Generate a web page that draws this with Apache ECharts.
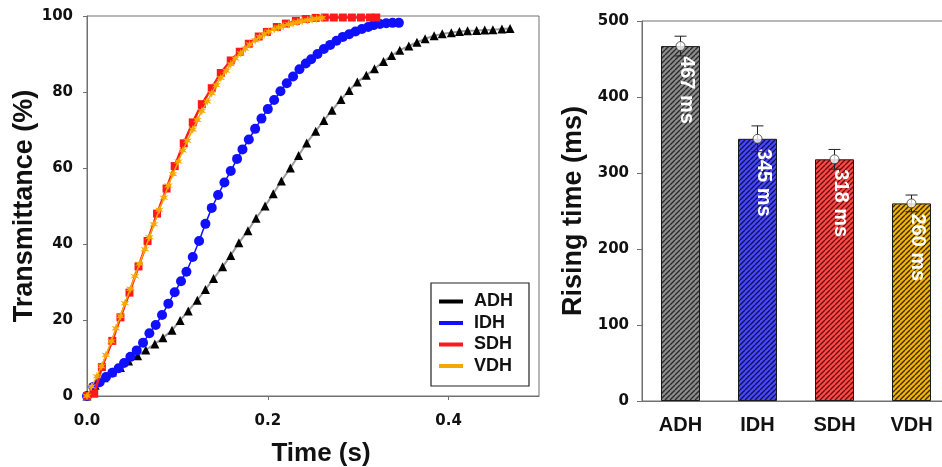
<!DOCTYPE html>
<html>
<head>
<meta charset="utf-8">
<script src="https://cdn.jsdelivr.net/npm/echarts@6/dist/echarts.min.js"></script>
<style>
  html, body { margin: 0; padding: 0; background: #fff; }
  #chart { width: 942px; height: 467px; }
</style>
</head>
<body>
<div id="chart"></div>
<script>
// Transmittance (%) versus time (s) for the four devices
const adhCurve = [
  [0, 0], [0.009, 2.8], [0.019, 4.8], [0.028, 6.3], [0.037, 7.5], [0.046, 9.2], [0.056, 10.6],
  [0.065, 12.1], [0.075, 13.7], [0.084, 15.3], [0.094, 17.3], [0.103, 19.9], [0.112, 22.4],
  [0.122, 25.2], [0.131, 28.0], [0.140, 30.9], [0.150, 34.0], [0.159, 37.0], [0.168, 40.3],
  [0.178, 43.5], [0.187, 46.8], [0.197, 50.0], [0.206, 53.2], [0.215, 56.6], [0.225, 60.0],
  [0.234, 63.3], [0.243, 66.6], [0.253, 69.7], [0.262, 72.5], [0.271, 75.2], [0.281, 78.0],
  [0.290, 80.4], [0.299, 82.6], [0.309, 84.4], [0.318, 86.1], [0.328, 88.0], [0.337, 89.6],
  [0.346, 91.0], [0.356, 92.1], [0.365, 93.1], [0.374, 94.0], [0.384, 94.8], [0.393, 95.3],
  [0.403, 95.6], [0.412, 95.9], [0.421, 96.1], [0.431, 96.2], [0.440, 96.3], [0.449, 96.4],
  [0.459, 96.6], [0.468, 96.7]
];
const idhCurve = [
  [0, 0], [0.007, 2.4], [0.014, 3.6], [0.021, 5.0], [0.028, 6.1], [0.035, 7.3], [0.041, 8.7],
  [0.048, 10.3], [0.055, 12.0], [0.062, 14.0], [0.069, 16.5], [0.076, 18.7], [0.083, 21.3],
  [0.090, 24.3], [0.097, 27.3], [0.104, 30.2], [0.110, 32.7], [0.117, 36.6], [0.124, 40.8],
  [0.131, 45.3], [0.138, 49.5], [0.145, 52.9], [0.152, 56.2], [0.159, 59.2], [0.166, 62.4],
  [0.172, 64.9], [0.179, 67.5], [0.186, 70.3], [0.193, 73.0], [0.200, 75.5], [0.207, 77.9],
  [0.214, 80.2], [0.221, 82.3], [0.228, 84.1], [0.235, 86.0], [0.242, 87.5], [0.248, 88.6],
  [0.255, 90.0], [0.262, 91.3], [0.269, 92.4], [0.276, 93.5], [0.283, 94.5], [0.290, 95.2],
  [0.297, 95.9], [0.304, 96.6], [0.311, 97.1], [0.317, 97.6], [0.324, 97.9], [0.331, 98.1],
  [0.338, 98.2], [0.345, 98.2]
];
const sdhCurve = [
  [0, 0], [0.008, 0.6], [0.0165, 7.6], [0.028, 14.5], [0.037, 20.7], [0.047, 27.2], [0.057, 34.1],
  [0.067, 40.8], [0.0775, 48.0], [0.088, 54.6], [0.097, 60.5], [0.107, 66.5], [0.117, 72.0],
  [0.127, 76.8], [0.138, 81.0], [0.148, 85.0], [0.159, 88.3], [0.169, 90.6], [0.179, 92.7],
  [0.190, 94.6], [0.199, 95.8], [0.210, 97.1], [0.220, 98.0], [0.231, 98.7], [0.242, 99.2],
  [0.253, 99.5], [0.263, 99.6], [0.273, 99.6], [0.283, 99.6], [0.293, 99.6], [0.303, 99.6],
  [0.313, 99.6], [0.320, 99.6]
];
const vdhCurve = [
  [0, 0], [0.005, 2.5], [0.011, 5.2], [0.016, 7.8], [0.021, 10.8], [0.027, 14.4], [0.032, 17.8],
  [0.037, 21.0], [0.042, 24.4], [0.048, 28.2], [0.053, 31.5], [0.058, 34.8], [0.064, 38.6],
  [0.069, 41.8], [0.074, 45.2], [0.080, 49.0], [0.085, 52.2], [0.090, 55.4], [0.095, 58.4],
  [0.101, 61.7], [0.106, 64.6], [0.111, 67.2], [0.117, 70.1], [0.122, 72.6], [0.127, 75.0],
  [0.133, 77.5], [0.138, 79.7], [0.143, 81.8], [0.148, 83.7], [0.154, 85.6], [0.159, 87.3],
  [0.164, 88.8], [0.170, 90.2], [0.175, 91.4], [0.180, 92.5], [0.186, 93.6], [0.191, 94.5],
  [0.196, 95.2], [0.201, 95.9], [0.207, 96.5], [0.212, 97.0], [0.217, 97.4], [0.223, 97.8],
  [0.228, 98.1], [0.233, 98.4], [0.238, 98.7], [0.244, 98.9], [0.249, 99.1], [0.254, 99.3],
  [0.260, 99.5]
];
const timeTicks = [0, 0.2, 0.4];

// Rising time (ms) per device, with error half-widths
const groups = ['ADH', 'IDH', 'SDH', 'VDH'];
const riseTime = [467, 345, 318, 260];
const riseErr = [13, 17, 13, 11];

const lineColors = { ADH: '#000000', IDH: '#1010ff', SDH: '#ff1a1a', VDH: '#f7a800' };
const barBase = ['#8c8c8c', '#4848ff', '#ff4a4a', '#f4b400'];
const barStripe = ['#2a2a2a', '#10105a', '#6a0c0c', '#3a2800'];

const tickFont = 'DejaVu Sans';
const textFont = 'Liberation Sans, Arial, sans-serif';
const axisGrey = '#707070';

// Diagonal hatch fill for the bars
function hatch(base, stripe) {
  const s = 5;
  const c = document.createElement('canvas');
  c.width = s; c.height = s;
  const g = c.getContext('2d');
  g.fillStyle = base;
  g.fillRect(0, 0, s, s);
  g.strokeStyle = stripe;
  g.lineWidth = 1.4;
  g.beginPath();
  for (const o of [-s, 0, s]) { g.moveTo(o, s); g.lineTo(o + s, 0); }
  g.stroke();
  return { image: c, repeat: 'repeat' };
}

const starPath = 'path://M0,-10L2,-3.46L8.66,-5L4,0L8.66,5L2,3.46L0,10L-2,3.46L-8.66,5L-4,0L-8.66,-5L-2,-3.46Z';

const chart = echarts.init(document.getElementById('chart'), null, { renderer: 'canvas' });

const option = {
  animation: false,
  backgroundColor: '#fff',
  grid: [
    { left: 87, top: 16, width: 452, height: 380, containLabel: false, outerBoundsMode: 'none',
      show: true, borderColor: axisGrey, borderWidth: 1, backgroundColor: 'transparent' },
    { left: 642, top: 21, width: 308, height: 380, containLabel: false, outerBoundsMode: 'none',
      show: true, borderColor: axisGrey, borderWidth: 1, backgroundColor: 'transparent' }
  ],
  legend: {
    left: 431, top: 283,
    orient: 'vertical',
    icon: 'rect',
    itemWidth: 24, itemHeight: 4, itemGap: 3.5,
    padding: [9.5, 16, 11, 8],
    borderColor: '#222', borderWidth: 1.2,
    backgroundColor: '#fff',
    selectedMode: false,
    data: ['ADH', 'IDH', 'SDH', 'VDH'],
    textStyle: { fontFamily: textFont, fontWeight: 'bold', fontSize: 18, color: '#111', lineHeight: 18, padding: [0, 0, 0, 6] }
  },
  xAxis: [
    {
      type: 'value', gridIndex: 0, min: 0, max: 0.5, interval: 0.2,
      name: 'Time (s)', nameLocation: 'middle', nameGap: 45,
      nameTextStyle: { fontFamily: textFont, fontWeight: 'bold', fontSize: 26, color: '#111', padding: [0, 0, 0, 16] },
      axisLine: { show: true, lineStyle: { color: axisGrey, width: 1 } },
      axisTick: { show: true, inside: false, length: 4, lineStyle: { color: axisGrey }, customValues: timeTicks },
      axisLabel: { fontFamily: tickFont, fontWeight: 'bold', fontSize: 15, color: '#111', margin: 18, showMaxLabel: false, formatter: v => v.toFixed(1) },
      splitLine: { show: false }
    },
    {
      type: 'category', gridIndex: 1, data: groups,
      axisLine: { show: true, lineStyle: { color: axisGrey, width: 1 } },
      axisTick: { show: false },
      axisLabel: { fontFamily: textFont, fontWeight: 'bold', fontSize: 20, color: '#111', margin: 14 },
      splitLine: { show: false }
    }
  ],
  yAxis: [
    {
      type: 'value', gridIndex: 0, min: 0, max: 100, interval: 20,
      name: 'Transmittance (%)', nameLocation: 'middle', nameGap: 49,
      nameTextStyle: { fontFamily: textFont, fontWeight: 'bold', fontSize: 27, color: '#111' },
      axisLine: { show: true, lineStyle: { color: axisGrey, width: 1 } },
      axisTick: { show: true, inside: false, length: 4, lineStyle: { color: axisGrey } },
      axisLabel: { fontFamily: tickFont, fontWeight: 'bold', fontSize: 15, color: '#111', margin: 14 },
      splitLine: { show: false }
    },
    {
      type: 'value', gridIndex: 1, min: 0, max: 500, interval: 100,
      name: 'Rising time (ms)', nameLocation: 'middle', nameGap: 55,
      nameTextStyle: { fontFamily: textFont, fontWeight: 'bold', fontSize: 27, color: '#111' },
      axisLine: { show: true, lineStyle: { color: axisGrey, width: 1 } },
      axisTick: { show: true, inside: false, length: 5, lineStyle: { color: axisGrey } },
      axisLabel: { fontFamily: tickFont, fontWeight: 'bold', fontSize: 15, color: '#111', margin: 13 },
      splitLine: { show: false }
    }
  ],
  series: [
    {
      name: 'ADH', type: 'line', xAxisIndex: 0, yAxisIndex: 0, data: adhCurve,
      symbol: 'triangle', symbolSize: 9,
      itemStyle: { color: lineColors.ADH },
      lineStyle: { color: '#9a9a9a', width: 2 },
      emphasis: { disabled: true }, z: 2
    },
    {
      name: 'IDH', type: 'line', xAxisIndex: 0, yAxisIndex: 0, data: idhCurve,
      symbol: 'circle', symbolSize: 10,
      itemStyle: { color: lineColors.IDH },
      lineStyle: { color: lineColors.IDH, width: 1.5 },
      emphasis: { disabled: true }, z: 3
    },
    {
      name: 'SDH', type: 'line', xAxisIndex: 0, yAxisIndex: 0, data: sdhCurve,
      symbol: 'rect', symbolSize: 8,
      itemStyle: { color: lineColors.SDH },
      lineStyle: { color: lineColors.SDH, width: 2.5 },
      emphasis: { disabled: true }, z: 4
    },
    {
      name: 'VDH', type: 'line', xAxisIndex: 0, yAxisIndex: 0, data: vdhCurve,
      symbol: starPath, symbolSize: 9,
      itemStyle: { color: lineColors.VDH },
      lineStyle: { color: lineColors.VDH, width: 1.5 },
      emphasis: { disabled: true }, z: 5
    },
    {
      name: 'Rising time', type: 'bar', xAxisIndex: 1, yAxisIndex: 1,
      barWidth: 39,
      data: riseTime.map((v, i) => ({
        value: v,
        itemStyle: { color: hatch(barBase[i], barStripe[i]), borderColor: '#1a1a1a', borderWidth: 1 }
      })),
      label: {
        show: true, position: 'insideTop', distance: 10, rotate: -90,
        align: 'left', verticalAlign: 'middle', offset: [0, -6],
        formatter: p => p.value + ' ms',
        fontFamily: textFont, fontWeight: 'bold', fontSize: 20, color: '#fff'
      },
      emphasis: { disabled: true }, z: 2
    },
    {
      name: 'Error', type: 'custom', xAxisIndex: 1, yAxisIndex: 1,
      data: riseTime.map((v, i) => [i, v - riseErr[i], v + riseErr[i]]),
      renderItem: (params, api) => {
        const lo = api.coord([api.value(0), api.value(1)]);
        const hi = api.coord([api.value(0), api.value(2)]);
        const hw = 6;
        const st = { stroke: '#222', lineWidth: 1 };
        return {
          type: 'group',
          children: [
            { type: 'line', shape: { x1: lo[0], y1: lo[1], x2: hi[0], y2: hi[1] }, style: st },
            { type: 'line', shape: { x1: hi[0] - hw, y1: hi[1], x2: hi[0] + hw, y2: hi[1] }, style: st },
            { type: 'line', shape: { x1: lo[0] - hw, y1: lo[1], x2: lo[0] + hw, y2: lo[1] }, style: st }
          ]
        };
      },
      z: 3
    },
    {
      name: 'Mean', type: 'scatter', xAxisIndex: 1, yAxisIndex: 1,
      data: riseTime,
      symbol: 'circle', symbolSize: 9,
      itemStyle: { color: '#ffffff', borderColor: '#333', borderWidth: 1 },
      emphasis: { disabled: true }, z: 4
    }
  ]
};

chart.setOption(option);
</script>
</body>
</html>
